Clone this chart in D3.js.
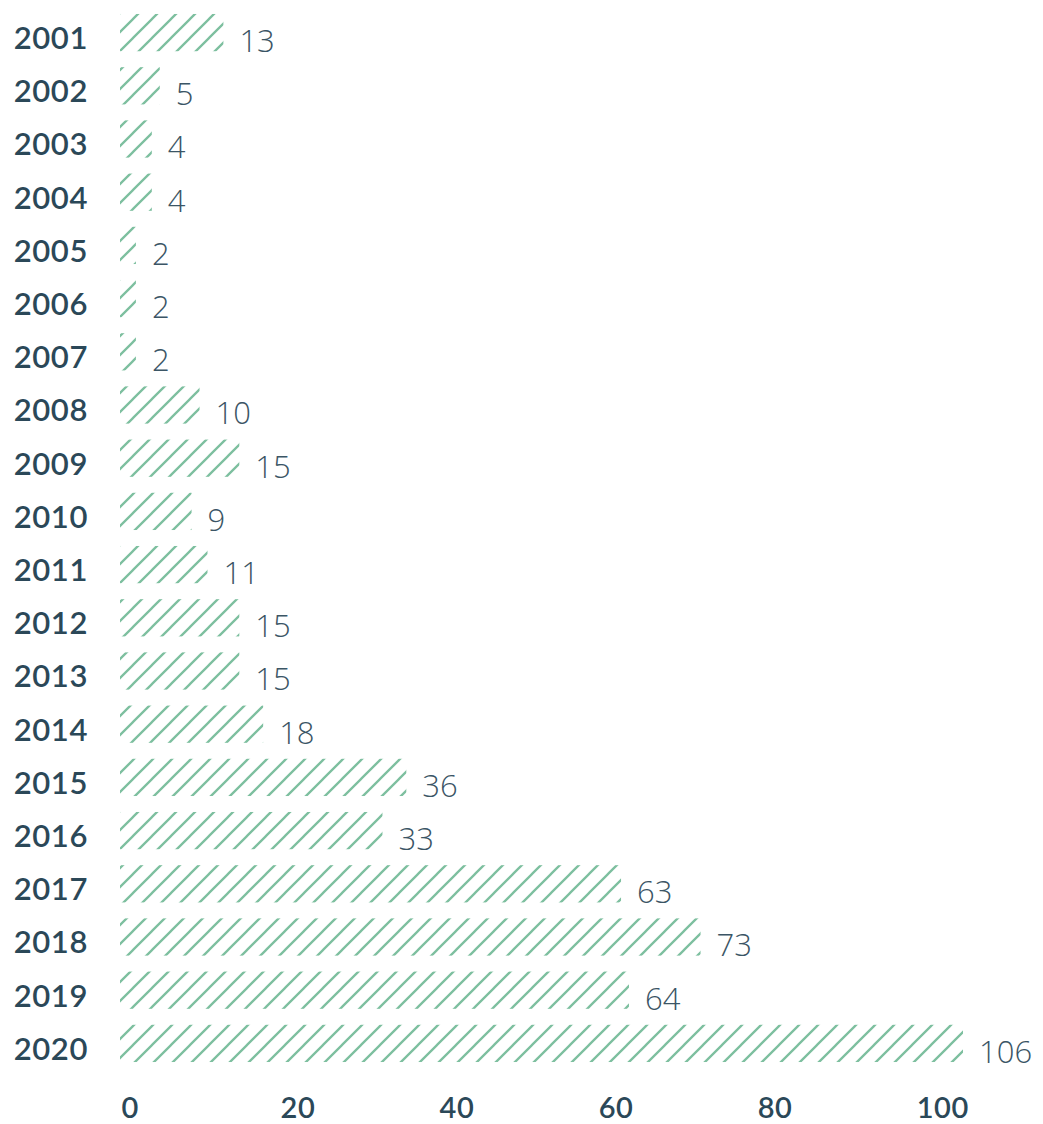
<!DOCTYPE html>
<html>
<head>
<meta charset="utf-8">
<script src="https://cdn.jsdelivr.net/npm/d3@7"></script>
<style>
  html, body { margin: 0; padding: 0; background: #ffffff; }
  svg { display: block; }
</style>
</head>
<body>
<svg id="chart" width="1043" height="1124"></svg>
<script>
const years = ["2001","2002","2003","2004","2005","2006","2007","2008","2009","2010",
               "2011","2012","2013","2014","2015","2016","2017","2018","2019","2020"];
const counts = [13, 5, 4, 4, 2, 2, 2, 10, 15, 9, 11, 15, 15, 18, 36, 33, 63, 73, 64, 106];
const xTicks = [0, 20, 40, 60, 80, 100];

const svg = d3.select("#chart");
const barColor = "#7dbf9f";
const yearColor = "#2b4858";
const valueColor = "#3b5565";

const defs = svg.append("defs");
const pat = defs.append("pattern")
  .attr("id", "hatch")
  .attr("patternUnits", "userSpaceOnUse")
  .attr("width", 19)
  .attr("height", 19);
pat.append("path")
  .attr("d", "M-2,2 L2,-2 M0,19 L19,0 M17,21 L21,17")
  .attr("stroke", barColor)
  .attr("stroke-width", 2.3)
  .attr("fill", "none");

const x = d3.scaleLinear().domain([0, d3.max(counts)]).range([120, 963]);
const y = d3.scaleBand().domain(years).range([6, 1070]).paddingInner(0.3).paddingOuter(0.15);

const data = years.map((yr, i) => ({ year: yr, value: counts[i] }));

svg.append("g").selectAll("rect").data(data).join("rect")
  .attr("x", x(0))
  .attr("y", d => y(d.year))
  .attr("width", d => x(d.value) - x(0))
  .attr("height", y.bandwidth())
  .attr("fill", "url(#hatch)");

svg.append("g").selectAll("text").data(data).join("text")
  .attr("x", 88)
  .attr("y", d => y(d.year) + 35)
  .attr("text-anchor", "end")
  .attr("font-family", "Lato, sans-serif")
  .attr("font-weight", 600)
  .attr("font-size", 31)
  .attr("letter-spacing", 0.6)
  .attr("fill", yearColor)
  .text(d => d.year);

svg.append("g").selectAll("text").data(data).join("text")
  .attr("x", d => x(d.value) + 16)
  .attr("y", d => y(d.year) + 38)
  .attr("text-anchor", "start")
  .attr("font-family", "'Open Sans', sans-serif")
  .attr("font-weight", 300)
  .attr("font-size", 31)
  .attr("fill", valueColor)
  .text(d => d.value);

const xAxis = d3.axisBottom(x).tickValues(xTicks).tickSize(0).tickPadding(0);
const gx = svg.append("g").attr("transform", "translate(0,1096)").call(xAxis);
gx.select(".domain").remove();
gx.selectAll("text")
  .attr("text-anchor", "start")
  .attr("dy", null)
  .attr("y", 22)
  .attr("x", 1)
  .attr("font-family", "Lato, sans-serif")
  .attr("font-weight", 600)
  .attr("font-size", 29)
  .attr("letter-spacing", 0.5)
  .attr("fill", yearColor);
</script>
</body>
</html>
